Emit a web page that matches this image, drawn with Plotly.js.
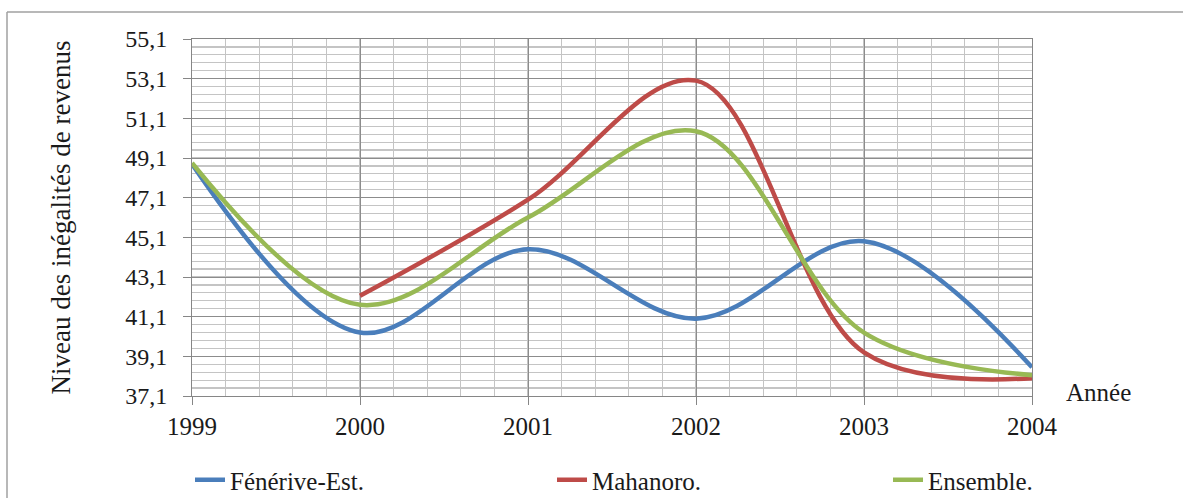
<!DOCTYPE html>
<html>
<head>
<meta charset="utf-8">
<script src="https://cdn.plot.ly/plotly-3.0.1.min.js"></script>
<style>html,body{margin:0;padding:0;background:#fff;}#chart{width:1183px;height:498px;}</style>
</head>
<body>
<div id="chart"></div>
<script>
const years = [1999, 2000, 2001, 2002, 2003, 2004];
const fenerive = [48.8, 40.3, 44.5, 41.0, 44.9, 38.55];
const mahanoro = [null, 42.15, 47.0, 53.0, 39.3, 38.0];
const ensemble = [48.85, 41.7, 46.1, 50.45, 40.3, 38.15];
const seriesNames = ['Fénérive-Est.', 'Mahanoro.', 'Ensemble.'];
const yTicks = [37.1, 39.1, 41.1, 43.1, 45.1, 47.1, 49.1, 51.1, 53.1, 55.1];

const font = '"Liberation Serif", "Times New Roman", serif';
const txt = '#1a1a1a';
const mk = (y, name, color, lg) => ({
  x: years, y: y, name: name, type: 'scatter', mode: 'lines',
  line: {color: color, width: 4.5, shape: 'spline', smoothing: 1},
  connectgaps: false, legend: lg, hoverinfo: 'skip'
});
const data = [
  mk(fenerive, seriesNames[0], '#4a7ebb', 'legend'),
  mk(mahanoro, seriesNames[1], '#be4b48', 'legend2'),
  mk(ensemble, seriesNames[2], '#98b954', 'legend3')
];
const legBase = {orientation: 'h', xref: 'container', yref: 'container',
  yanchor: 'middle', y: (498 - 480) / 498, xanchor: 'left',
  font: {family: font, size: 25, color: txt}, bgcolor: 'rgba(0,0,0,0)', itemwidth: 30};
const layout = {
  width: 1183, height: 498,
  margin: {l: 192, r: 151, t: 39, b: 102},
  paper_bgcolor: '#fff', plot_bgcolor: '#fff',
  separators: ',.',
  font: {family: font, size: 25, color: txt},
  showlegend: true,
  legend: Object.assign({}, legBase, {x: 190 / 1183}),
  legend2: Object.assign({}, legBase, {x: 552 / 1183}),
  legend3: Object.assign({}, legBase, {x: 888 / 1183}),
  xaxis: {
    range: [1999, 2004], tickvals: years, ticktext: years.map(String),
    showline: true, linecolor: '#868686', linewidth: 1, mirror: true,
    ticks: 'outside', ticklen: 8, tickcolor: '#868686',
    showgrid: true, gridcolor: '#8c8c8c', gridwidth: 1, zeroline: false,
    tickfont: {family: font, size: 25, color: txt},
    ticklabelstandoff: 0,
    minor: {dtick: 0.2, tick0: 1999, showgrid: true, gridcolor: '#c4c4c4', gridwidth: 1.2}
  },
  yaxis: {
    range: [37.1, 55.1], tickvals: yTicks, tickformat: '.1f',
    showline: true, linecolor: '#868686', linewidth: 1, mirror: true,
    ticks: 'outside', ticklen: 8, tickcolor: '#868686',
    showgrid: true, gridcolor: '#8c8c8c', gridwidth: 1, zeroline: false,
    tickfont: {family: font, size: 24, color: txt},
    ticklabelstandoff: 11,
    title: {text: 'Niveau des inégalités de revenus', font: {family: font, size: 27, color: txt}, standoff: 46},
    minor: {dtick: 0.4, tick0: 37.1, showgrid: true, gridcolor: '#c4c4c4', gridwidth: 1.2}
  },
  annotations: [{
    text: 'Année', xref: 'paper', yref: 'paper', x: (1064 - 192) / 840, y: (396 - 392) / 357,
    xanchor: 'left', yanchor: 'middle', showarrow: false,
    font: {family: font, size: 25, color: txt}
  }],
  shapes: [
    {type: 'line', xref: 'paper', yref: 'paper', layer: 'below',
     x0: (7 - 192) / 840, x1: (1200 - 192) / 840, y0: (396 - 12) / 357, y1: (396 - 12) / 357,
     line: {color: '#a0a0a0', width: 1.5}},
    {type: 'line', xref: 'paper', yref: 'paper', layer: 'below',
     x0: (7 - 192) / 840, x1: (7 - 192) / 840, y0: (396 - 12) / 357, y1: (396 - 520) / 357,
     line: {color: '#a0a0a0', width: 1.5}}
  ]
};
Plotly.newPlot('chart', data, layout, {displayModeBar: false, staticPlot: true});
</script>
</body>
</html>
